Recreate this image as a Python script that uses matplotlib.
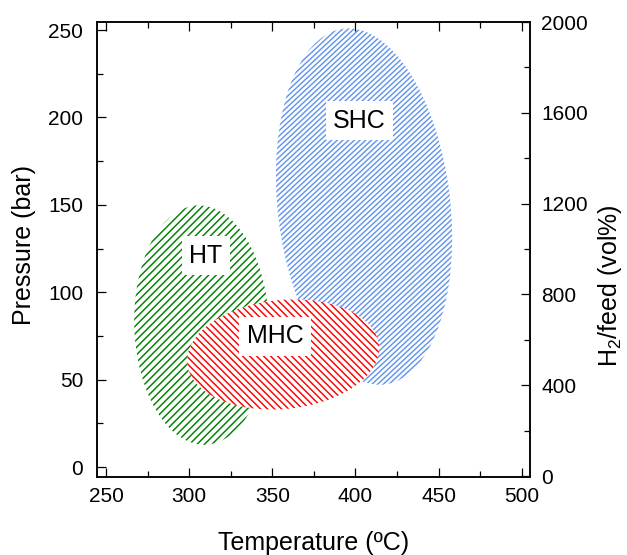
import numpy as np
import matplotlib
matplotlib.use('Agg')
import matplotlib.pyplot as plt
from matplotlib.patches import Ellipse
from matplotlib.collections import LineCollection
from matplotlib.transforms import IdentityTransform
from matplotlib.ticker import MultipleLocator

plt.rcParams['font.family'] = ['Liberation Sans', 'DejaVu Sans']
plt.rcParams['mathtext.fontset'] = 'custom'
plt.rcParams['mathtext.rm'] = 'Liberation Sans'
plt.rcParams['mathtext.it'] = 'Liberation Sans:italic'
plt.rcParams['mathtext.default'] = 'regular'

# ---- data ----
regions = ['SHC', 'HT', 'MHC']
center_temp = [405.2, 307.5, 356.5]     # degC
center_pres = [149.0, 81.2, 64.4]       # bar
width_temp = [103.8, 81.0, 115.8]       # degC
height_pres = [205.0, 137.0, 62.4]      # bar
tilt_deg = [7, 2, 5]
label_temp = [402.5, 310.0, 351.7]
label_pres = [198.0, 121.0, 74.7]
x_ticks = [250, 300, 350, 400, 450, 500]
y_ticks = [0, 50, 100, 150, 200, 250]
y2_ticks = [0, 400, 800, 1200, 1600, 2000]

# ---- style ----
colors = ['#6495ED', '#008000', '#FF0000']
hatch_angle = [43, 45, -45]
hatch_step = [5.7, 7.5, 7.0]
hatch_lw = [1.05, 1.05, 1.05]

fig = plt.figure(figsize=(6.27, 5.55), dpi=100)
ax = fig.add_axes([97/627, 1-477/555, 433/627, 455/555])
ax.set_xlim(244.6, 505)
ax.set_ylim(-5.7, 254.6)
ax2 = ax.twinx()
ax2.set_ylim(-4, 1996)


def hatch_lines(ax, e, color, angle, step, lw, z):
    bb = e.get_window_extent()
    x0, y0, x1, y1 = bb.x0 - 5, bb.y0 - 5, bb.x1 + 5, bb.y1 + 5
    t = np.tan(np.radians(angle))
    corners = [(x0, y0), (x0, y1), (x1, y0), (x1, y1)]
    bs = [cy - t * cx for cx, cy in corners]
    db = step * abs(t)
    segs = [[(x0, t * x0 + b), (x1, t * x1 + b)]
            for b in np.arange(min(bs), max(bs), db)]
    lc = LineCollection(segs, colors=color, linewidths=lw,
                        transform=IdentityTransform(), zorder=z)
    ax.add_collection(lc, autolim=False)
    lc.set_clip_path(e)


for i, name in enumerate(regions):
    z = 1 + i
    e = Ellipse((center_temp[i], center_pres[i]), width_temp[i], height_pres[i],
                angle=tilt_deg[i], facecolor='white', edgecolor='none', zorder=z)
    ax.add_patch(e)
    hatch_lines(ax, e, colors[i], hatch_angle[i], hatch_step[i], hatch_lw[i], z + 0.5)
    ax.text(label_temp[i], label_pres[i], name, fontsize=18, ha='center', va='center',
            zorder=10, bbox=dict(boxstyle='square,pad=0.3', facecolor='white', edgecolor='none'))

ax.set_xticks(x_ticks)
ax.set_yticks(y_ticks)
ax.xaxis.set_minor_locator(MultipleLocator(25))
ax.yaxis.set_minor_locator(MultipleLocator(25))
ax2.set_yticks(y2_ticks)
ax2.yaxis.set_minor_locator(MultipleLocator(200))

ax.tick_params(which='both', direction='in', top=True, right=False, labelsize=15, width=0.9)
ax.tick_params(which='major', length=6.5)
ax.tick_params(which='minor', length=4.3)
ax.tick_params(axis='y', which='both', pad=10)
ax.tick_params(axis='x', which='both', pad=7)
ax2.tick_params(which='both', direction='in', labelsize=15, width=0.9, pad=8)
ax2.tick_params(which='major', length=6.5)
ax2.tick_params(which='minor', length=4.3)

for a in (ax, ax2):
    for s in a.spines.values():
        s.set_linewidth(1.1)

ax.set_xlabel('Temperature (ºC)', fontsize=18)
ax.set_ylabel('Pressure (bar)', fontsize=18)
ax2.set_ylabel('H$_2$/feed (vol%)', fontsize=18)
ax.xaxis.set_label_coords(0.5, -0.118)
ax.yaxis.set_label_coords(-0.140, 0.51)
ax2.yaxis.set_label_coords(1.152, 0.42)

fig.savefig('out.png', dpi=100)
